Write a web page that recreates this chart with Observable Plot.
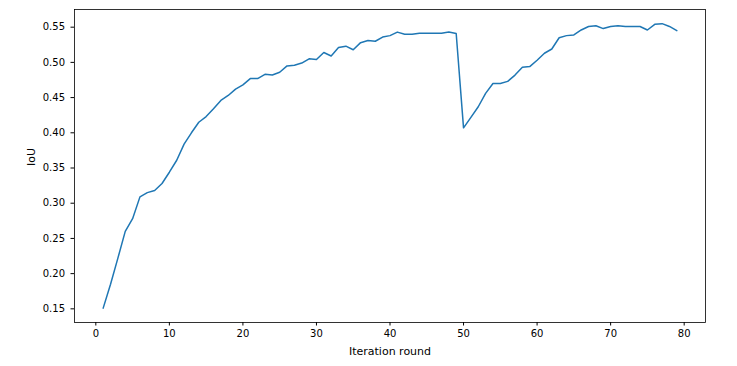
<!DOCTYPE html>
<html>
<head>
<meta charset="utf-8">
<script src="https://cdn.jsdelivr.net/npm/d3@7"></script>
<script src="https://cdn.jsdelivr.net/npm/@observablehq/plot@0.6"></script>
<style>
  html, body { margin: 0; padding: 0; background: #fff; }
  #chart svg { display: block; }
</style>
</head>
<body>
<div id="chart"></div>
<script>
const rounds = d3.range(1, 80);
const iou = [
  0.151, 0.185, 0.222, 0.260, 0.278, 0.309, 0.315, 0.318, 0.328, 0.344,
  0.361, 0.384, 0.400, 0.415, 0.423, 0.434, 0.446, 0.453, 0.462, 0.468,
  0.477, 0.477, 0.483, 0.482, 0.486, 0.495, 0.496, 0.499, 0.505, 0.504,
  0.514, 0.509, 0.521, 0.523, 0.518, 0.528, 0.531, 0.530, 0.536, 0.538,
  0.543, 0.540, 0.540, 0.5415, 0.5415, 0.5415, 0.5415, 0.543, 0.541, 0.407,
  0.422, 0.437, 0.456, 0.470, 0.470, 0.473, 0.482, 0.493, 0.494, 0.503,
  0.513, 0.519, 0.535, 0.538, 0.539, 0.546, 0.551, 0.552, 0.548, 0.551,
  0.552, 0.551, 0.551, 0.551, 0.546, 0.554, 0.555, 0.551, 0.545
];
const xTicks = [0, 10, 20, 30, 40, 50, 60, 70, 80];
const yTicks = [0.15, 0.20, 0.25, 0.30, 0.35, 0.40, 0.45, 0.50, 0.55];
const xLabel = "Iteration round";
const yLabel = "IoU";

const data = rounds.map((r, i) => ({round: r, iou: iou[i]}));

const chart = Plot.plot({
  width: 737,
  height: 366,
  marginLeft: 74,
  marginRight: 32,
  marginTop: 9,
  marginBottom: 44,
  style: {fontFamily: "DejaVu Sans, sans-serif", fontSize: "10px", color: "#000", background: "#fff"},
  x: {domain: [-2.9, 82.9]},
  y: {domain: [0.1306, 0.5751]},
  marks: [
    Plot.axisX({ticks: xTicks, tickSize: 3.5, tickPadding: 3.5, label: null, fontSize: 10}),
    Plot.axisY({ticks: yTicks, tickSize: 3.5, tickPadding: 6, tickFormat: d3.format(".2f"), label: null, fontSize: 10}),
    Plot.line(data, {x: "round", y: "iou", stroke: "#1f77b4", strokeWidth: 1.5}),
    Plot.frame({stroke: "#000", strokeWidth: 0.8}),
    Plot.text([xLabel], {frameAnchor: "bottom", dy: 29, lineAnchor: "middle", fontSize: 11, fill: "#000"}),
    Plot.text([yLabel], {frameAnchor: "left", dx: -43, rotate: -90, lineAnchor: "middle", fontSize: 11, fill: "#000"})
  ]
});
document.getElementById("chart").appendChild(chart);
</script>
</body>
</html>
